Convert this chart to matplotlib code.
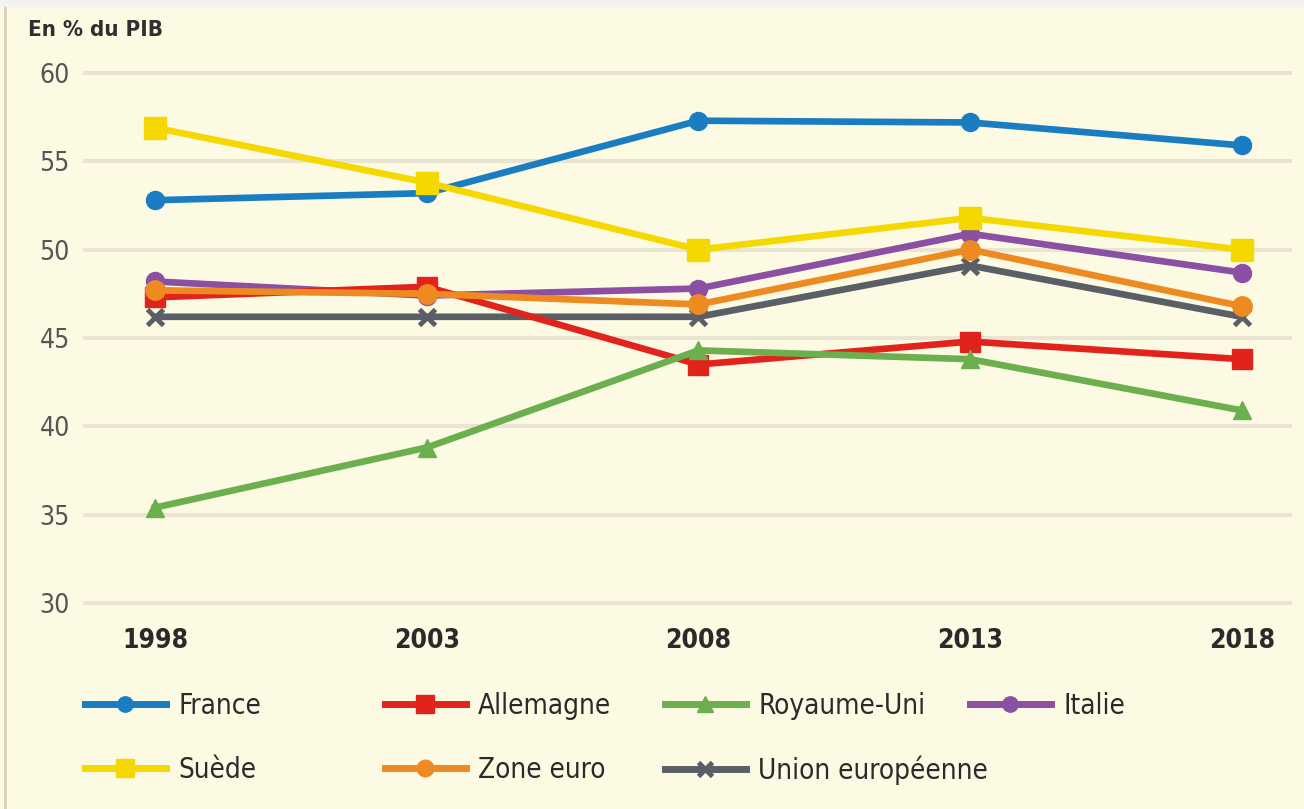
import matplotlib
matplotlib.use("Agg")
import matplotlib.pyplot as plt
from matplotlib.lines import Line2D

years = [1998, 2003, 2008, 2013, 2018]
france = [52.8, 53.2, 57.3, 57.2, 55.9]
allemagne = [47.3, 47.9, 43.5, 44.8, 43.8]
royaume_uni = [35.4, 38.8, 44.3, 43.8, 40.9]
italie = [48.2, 47.4, 47.8, 50.9, 48.7]
suede = [56.9, 53.8, 50.0, 51.8, 50.0]
zone_euro = [47.7, 47.5, 46.9, 50.0, 46.8]
union_europeenne = [46.2, 46.2, 46.2, 49.1, 46.2]
y_ticks = [30, 35, 40, 45, 50, 55, 60]

plt.rcParams['font.family'] = ['DejaVu Sans']
plt.rcParams['font.stretch'] = 'condensed'

bg = '#FDFAE3'
fig = plt.figure(figsize=(13.04, 8.09), dpi=100, facecolor=bg)
ax = fig.add_axes([85/1304, 1-603/809, (1290-85)/1304, (603-73)/809])
ax.set_facecolor(bg)
ax.set_xlim(1998 - 70/54.35, 2018 + 48/54.35)
ax.set_ylim(30, 60)

series = [
    ('Union européenne', union_europeenne, '#5A5E66', 'x', 12, 2),
    ('Italie', italie, '#8B4FA3', 'o', 13, 3),
    ('Allemagne', allemagne, '#E2231C', 's', 15, 4),
    ('Zone euro', zone_euro, '#EE8A22', 'o', 14, 5),
    ('Royaume-Uni', royaume_uni, '#6BAF4F', '^', 13, 6),
    ('France', france, '#1B7DC1', 'o', 13, 7),
    ('Suède', suede, '#F5D800', 's', 16, 8),
]
handles = {}
for name, vals, col, mk, ms, z in series:
    kw = dict(color=col, lw=4.8, marker=mk, markersize=ms, zorder=z, clip_on=False,
              solid_joinstyle='round')
    if mk == 'x':
        kw.update(markeredgewidth=3.5)
    else:
        kw.update(markeredgecolor=col, markerfacecolor=col)
    h, = ax.plot(years, vals, **kw)
    handles[name] = h

for yt in y_ticks:
    ax.axhline(yt, color='#E9E5D2', lw=3, zorder=1, clip_on=False)

for s in ax.spines.values():
    s.set_visible(False)
ax.set_yticks(y_ticks)
ax.set_xticks(years)
ax.tick_params(axis='both', length=0)
ax.tick_params(axis='y', pad=11, labelsize=19, labelcolor='#555555')
ax.tick_params(axis='x', pad=18, labelsize=19, labelcolor='#2A2A2A')
for lab in ax.get_xticklabels():
    lab.set_fontweight('bold')

fig.text(28/1304, 1-30/809, 'En % du PIB', fontsize=16, fontweight='bold',
         color='#2F2F2F', va='center', ha='left')

positions = {
    'France': (85, 706), 'Allemagne': (385, 706), 'Royaume-Uni': (665, 706),
    'Italie': (970, 706), 'Suède': (85, 770), 'Zone euro': (385, 770),
    'Union européenne': (665, 770),
}
for name, (px, py) in positions.items():
    h = handles[name]
    leg_h = Line2D([], [], color=h.get_color(), lw=5, marker=h.get_marker(),
                   markersize=h.get_markersize()*0.85,
                   markeredgewidth=h.get_markeredgewidth(),
                   markerfacecolor=h.get_markerfacecolor(),
                   markeredgecolor=h.get_markeredgecolor())
    fig.legend([leg_h], [name], loc='center left',
               bbox_to_anchor=(px/1304, 1-py/809), frameon=False,
               handlelength=2.9, handletextpad=0.45, borderpad=0, borderaxespad=0,
               prop={'size': 20, 'stretch': 'condensed'}, labelcolor='#2A2A2A')

fig.add_artist(Line2D([5/1304, 5/1304], [0, 1-5/809], color='#D8D2B8', lw=2))
fig.add_artist(Line2D([0, 1], [1-3/809, 1-3/809], color='#F4F2EE', lw=6))

fig.savefig('out.png', dpi=100, facecolor=bg)
